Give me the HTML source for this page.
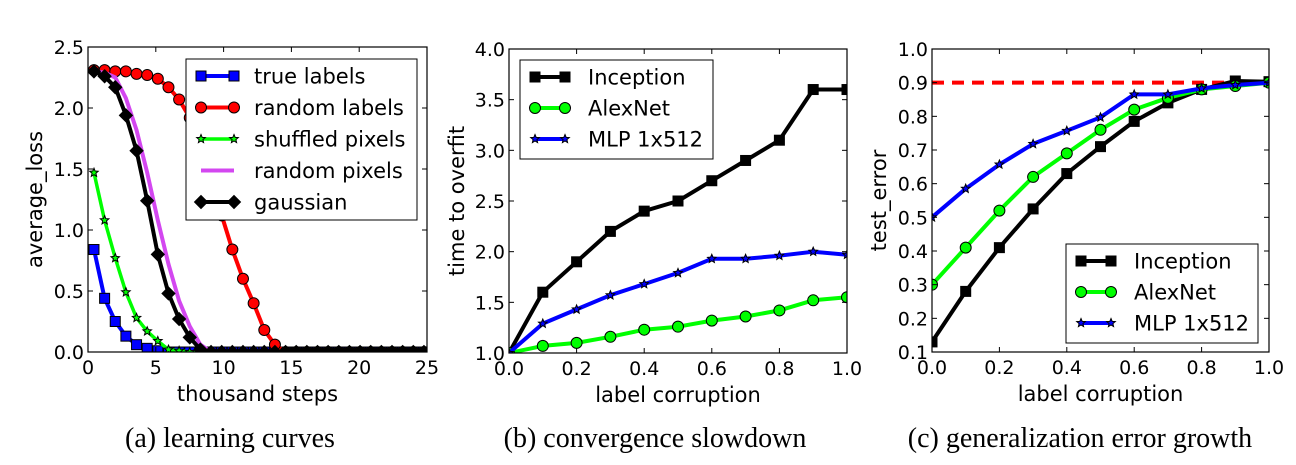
<!DOCTYPE html>
<html><head><meta charset="utf-8"><style>
body{margin:0;background:#fff;width:1296px;height:465px;overflow:hidden}
svg{position:absolute;left:0;top:0}
text{font-family:"DejaVu Sans","Liberation Sans",sans-serif;fill:#000}
.cap{font-family:"Liberation Serif",serif;font-size:28px}
</style></head><body>
<svg id="chart" width="1296" height="465" xmlns="http://www.w3.org/2000/svg"></svg>
<script>
// ---- data panel (a)
const aSteps = Array.from({length:32},(_,i)=>0.44+0.785*i);
const aTrue = [0.84,0.44,0.25,0.13,0.06,0.03,0.01,0,0,0,0,0,0,0,0,0,0,0,0,0,0,0,0,0,0,0,0,0,0,0,0,0];
const aRandLabels = [2.31,2.31,2.30,2.30,2.28,2.27,2.24,2.17,2.07,1.92,1.70,1.40,1.12,0.84,0.60,0.40,0.18,0.06,0,0,0,0,0,0,0,0,0,0,0,0,0,0];
const aShuffled = [1.47,1.08,0.77,0.49,0.28,0.17,0.09,0.02,0.01,0,0,0,0,0,0,0,0,0,0,0,0,0,0,0,0,0,0,0,0,0,0,0];
const aRandPixels = [2.30,2.29,2.25,2.08,1.82,1.47,1.08,0.72,0.42,0.21,0.06,0,0,0,0,0,0,0,0,0,0,0,0,0,0,0,0,0,0,0,0,0];
const aGaussian = [2.30,2.26,2.17,1.94,1.65,1.24,0.80,0.48,0.27,0.12,0.02,0,0,0,0,0,0,0,0,0,0,0,0,0,0,0,0,0,0,0,0,0];
const aXTicks = [0,5,10,15,20,25];
const aYTicks = [0,0.5,1.0,1.5,2.0,2.5];
// ---- data panel (b)
const corruption = [0,0.1,0.2,0.3,0.4,0.5,0.6,0.7,0.8,0.9,1.0];
const bInception = [1.0,1.6,1.9,2.2,2.4,2.5,2.7,2.9,3.1,3.6,3.6];
const bAlexNet = [1.0,1.07,1.1,1.16,1.23,1.26,1.32,1.36,1.42,1.52,1.55];
const bMLP = [1.0,1.29,1.43,1.57,1.68,1.79,1.93,1.93,1.96,2.0,1.97];
const bYTicks = [1.0,1.5,2.0,2.5,3.0,3.5,4.0];
const corrTicks = [0,0.2,0.4,0.6,0.8,1.0];
// ---- data panel (c)
const cInception = [0.13,0.28,0.41,0.525,0.63,0.71,0.785,0.84,0.88,0.905,0.903];
const cAlexNet = [0.30,0.41,0.52,0.62,0.69,0.76,0.82,0.855,0.88,0.89,0.90];
const cMLP = [0.50,0.585,0.657,0.718,0.757,0.797,0.865,0.865,0.883,0.893,0.90];
const cChance = [0.9];
const cYTicks = [0.1,0.2,0.3,0.4,0.5,0.6,0.7,0.8,0.9,1.0];

const NS="http://www.w3.org/2000/svg";
const svg=document.getElementById('chart');
function mk(tag,attrs,parent){const e=document.createElementNS(NS,tag);for(const k in attrs)e.setAttribute(k,attrs[k]);(parent||svg).appendChild(e);return e;}
function txt(s,attrs,parent){const e=mk('text',attrs,parent);e.textContent=s;return e;}
function fmt(v,d){return v.toFixed(d);}

function marker(g,type,x,y,fill){
  let e;
  if(type==='s'){e=mk('rect',{x:x-5,y:y-5,width:10,height:10,fill:fill,stroke:'#000','stroke-width':1},g);}
  else if(type==='o'){e=mk('circle',{cx:x,cy:y,r:5.5,fill:fill,stroke:'#000','stroke-width':1},g);}
  else if(type==='*'){let p=[];for(let k=0;k<10;k++){const r=k%2?2:4.5;const a=-Math.PI/2+k*Math.PI/5;p.push((x+r*Math.cos(a)).toFixed(1)+','+(y+r*Math.sin(a)).toFixed(1));}
    e=mk('polygon',{points:p.join(' '),fill:fill,stroke:'#000','stroke-width':1},g);}
  else if(type==='D'){e=mk('polygon',{points:`${x},${y-6.5} ${x+6.5},${y} ${x},${y+6.5} ${x-6.5},${y}`,fill:fill,stroke:'#000','stroke-width':1},g);}
  
  
  return e;
}

function panel(cfg){
  const {L,R,T,B,xmin,xmax,ymin,ymax}=cfg;
  const sx=v=>L+(v-xmin)/(xmax-xmin)*(R-L);
  const sy=v=>B-(v-ymin)/(ymax-ymin)*(B-T);
  const g=mk('g',{});
  
  
  const clipId=cfg.name+'-clip';
  const cp=mk('clipPath',{id:clipId},g);mk('rect',{x:L,y:T,width:R-L,height:B-T},cp);
  const plot=mk('g',{'clip-path':`url(#${clipId})`},g);
  
  
  (cfg.hlines||[]).forEach(h=>{const l=mk('line',{x1:L,x2:R,y1:sy(h.y),y2:sy(h.y),stroke:h.color,'stroke-width':4,'stroke-dasharray':'12,8'},plot);
    
    });
  cfg.series.forEach(s=>{
    const sg=mk('g',{},plot);
    
    
    const pts=s.x.map((xv,i)=>sx(xv).toFixed(1)+','+sy(s.y[i]).toFixed(1)).join(' ');
    mk('polyline',{points:pts,fill:'none',stroke:s.color,'stroke-width':s.lw||4,'stroke-linejoin':'round'},sg);
    if(s.m) s.x.forEach((xv,i)=>marker(sg,s.m,sx(xv),sy(s.y[i]),s.mfill));
  });
  const frame=mk('rect',{x:L,y:T,width:R-L,height:B-T,fill:'none',stroke:'#000','stroke-width':1.2},g);
  
  
  cfg.xticks.forEach(v=>{const x=sx(v);
    mk('line',{x1:x,x2:x,y1:B,y2:B-5,stroke:'#000'},g);mk('line',{x1:x,x2:x,y1:T,y2:T+5,stroke:'#000'},g);
    const t=txt(fmt(v,cfg.xdec),{x:x,y:B+22,'font-size':19,'text-anchor':'middle'},g);
    
    });
  cfg.yticks.forEach(v=>{const y=sy(v);
    mk('line',{x1:L,x2:L+5,y1:y,y2:y,stroke:'#000'},g);mk('line',{x1:R,x2:R-5,y1:y,y2:y,stroke:'#000'},g);
    const t=txt(fmt(v,1),{x:L-4,y:y+7,'font-size':19,'text-anchor':'end'},g);
    
    });
  const xl=txt(cfg.xlabel,{x:(L+R)/2,y:B+49,'font-size':21,'text-anchor':'middle'},g);
  
  
  const yl=txt(cfg.ylabel,{x:0,y:0,'font-size':21,'text-anchor':'middle',transform:`translate(${cfg.ylx},${(T+B)/2}) rotate(-90)`},g);
  
  
  // legend
  const lg=mk('g',{},g);
  
  
  const Lg=cfg.legend;
  mk('rect',{x:Lg.x,y:Lg.y,width:Lg.w,height:Lg.h,fill:'#fff',stroke:'#000','stroke-width':1},lg);
  cfg.series.forEach((s,i)=>{
    const y=Lg.y+Lg.y0+i*Lg.dy;
    const e=mk('g',{},lg);
    
    
    mk('line',{x1:Lg.x+Lg.h1,x2:Lg.x+Lg.h2,y1:y,y2:y,stroke:s.color,'stroke-width':s.lw||4},e);
    if(s.m){marker(e,s.m,Lg.x+Lg.h1,y,s.mfill);marker(e,s.m,Lg.x+Lg.h2,y,s.mfill);}
    txt(s.label,{x:Lg.x+Lg.tx,y:y+7.5,'font-size':21},e);
  });
}

panel({name:'panel-a-learning-curves',L:88,R:427,T:47,B:352,xmin:0,xmax:25,ymin:0,ymax:2.5,xdec:0,
  xticks:aXTicks,yticks:aYTicks,xlabel:'thousand steps',ylabel:'average_loss',ylx:42,
  series:[
    {key:'true-labels',label:'true labels',x:aSteps,y:aTrue,color:'#0000ff',m:'s',mfill:'#0000ff'},
    {key:'random-labels',label:'random labels',x:aSteps,y:aRandLabels,color:'#ff0000',m:'o',mfill:'#ff0000'},
    {key:'shuffled-pixels',label:'shuffled pixels',x:aSteps,y:aShuffled,color:'#00ff00',m:'*',mfill:'#00ff00',lw:3.5},
    {key:'random-pixels',label:'random pixels',x:aSteps,y:aRandPixels,color:'#d347f0',m:null},
    {key:'gaussian',label:'gaussian',x:aSteps,y:aGaussian,color:'#000',m:'D',mfill:'#000'}],
  legend:{x:186,y:59,w:231,h:161,y0:17,dy:31.5,h1:15,h2:48,tx:68}});

panel({name:'panel-b-convergence',L:509,R:847,T:49,B:353,xmin:0,xmax:1,ymin:1,ymax:4,xdec:1,
  xticks:corrTicks,yticks:bYTicks,xlabel:'label corruption',ylabel:'time to overfit',ylx:464,
  series:[
    {key:'inception',label:'Inception',x:corruption,y:bInception,color:'#000',m:'s',mfill:'#000'},
    {key:'alexnet',label:'AlexNet',x:corruption,y:bAlexNet,color:'#00ff00',m:'o',mfill:'#00ff00'},
    {key:'mlp',label:'MLP 1x512',x:corruption,y:bMLP,color:'#0000ff',m:'*',mfill:'#0000ff'}],
  legend:{x:520,y:60,w:193,h:99,y0:17,dy:31,h1:15,h2:45,tx:68}});

panel({name:'panel-c-generalization',L:932,R:1269,T:49,B:352,xmin:0,xmax:1,ymin:0.1,ymax:1,xdec:1,
  xticks:corrTicks,yticks:cYTicks,xlabel:'label corruption',ylabel:'test_error',ylx:886,
  hlines:[{y:cChance[0],color:'#ff0000'}],
  series:[
    {key:'inception',label:'Inception',x:corruption,y:cInception,color:'#000',m:'s',mfill:'#000'},
    {key:'alexnet',label:'AlexNet',x:corruption,y:cAlexNet,color:'#00ff00',m:'o',mfill:'#00ff00'},
    {key:'mlp',label:'MLP 1x512',x:corruption,y:cMLP,color:'#0000ff',m:'*',mfill:'#0000ff'}],
  legend:{x:1066,y:244,w:192,h:99,y0:17,dy:31,h1:15,h2:45,tx:68}});

[['(a) learning curves',230,'caption-a'],['(b) convergence slowdown',655,'caption-b'],['(c) generalization error growth',1080,'caption-c']].forEach(c=>{
  const t=txt(c[0],{x:c[1],y:447,'text-anchor':'middle','class':'cap'});
  
  
});
</script>
</body></html>
